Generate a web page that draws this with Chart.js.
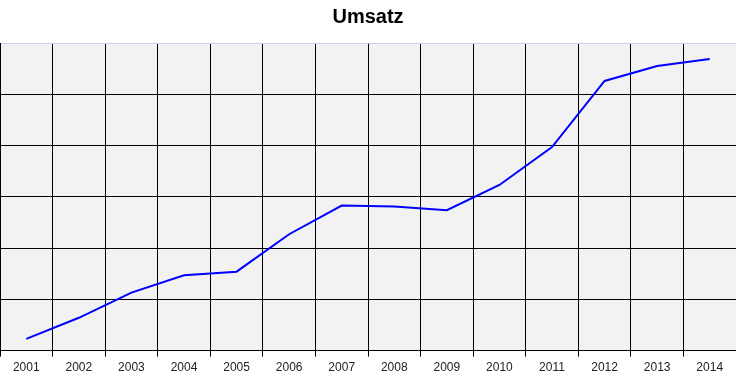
<!DOCTYPE html>
<html>
<head>
<meta charset="utf-8">
<script src="https://cdn.jsdelivr.net/npm/chart.js@4/dist/chart.umd.min.js"></script>
<style>
  html, body { margin: 0; padding: 0; background: #ffffff; }
  #wrap { width: 736px; height: 379px; }
</style>
</head>
<body>
<div id="wrap"><canvas id="umsatzChart" width="736" height="379"></canvas></div>
<script>
const years = ['2001', '2002', '2003', '2004', '2005', '2006', '2007', '2008', '2009', '2010', '2011', '2012', '2013', '2014'];
const umsatz = [2.3, 6.4, 11.3, 14.7, 15.4, 22.7, 28.3, 28.1, 27.4, 32.3, 39.7, 52.6, 55.5, 56.9];
const yMin = 0;
const yMax = 60;
const yStep = 10;

const plotBg = {
    id: 'plotBg',
    beforeDraw: function (chart) {
        const a = chart.chartArea;
        const ctx = chart.ctx;
        ctx.save();
        ctx.fillStyle = '#f2f2f2';
        ctx.fillRect(a.left, a.top, a.right - a.left, a.bottom - a.top);
        ctx.restore();
    }
};

const ctx = document.getElementById('umsatzChart').getContext('2d');
new Chart(ctx, {
    type: 'line',
    data: {
        labels: years,
        datasets: [{
            label: 'Umsatz',
            data: umsatz,
            borderColor: '#0000ff',
            borderWidth: 2,
            pointRadius: 0,
            tension: 0,
            fill: false
        }]
    },
    options: {
        responsive: false,
        animation: false,
        layout: { padding: { left: 0, right: 0, top: 0, bottom: 0 } },
        scales: {
            x: {
                offset: true,
                grid: {
                    offset: true,
                    color: function (c) {
                        return c.index === years.length ? '#ccccff' : '#000000';
                    },
                    lineWidth: 1,
                    drawTicks: true,
                    tickLength: 6
                },
                border: { color: '#000000' },
                ticks: {
                    color: '#222222',
                    font: { family: 'Liberation Sans, Arial', size: 12 },
                    padding: 4,
                    maxRotation: 0,
                    autoSkip: false
                }
            },
            y: {
                min: yMin,
                max: yMax,
                grid: {
                    color: function (c) {
                        return c.tick && c.tick.value === yMax ? '#ccccff' : '#000000';
                    },
                    drawTicks: false
                },
                border: { color: '#000000' },
                ticks: { display: false, stepSize: yStep }
            }
        },
        plugins: {
            legend: { display: false },
            tooltip: { enabled: false },
            title: {
                display: true,
                text: 'Umsatz',
                color: '#000000',
                font: { family: 'Liberation Sans, Arial', size: 20, weight: 'bold' },
                padding: { top: 5, bottom: 14 }
            }
        }
    },
    plugins: [plotBg]
});
</script>
</body>
</html>
